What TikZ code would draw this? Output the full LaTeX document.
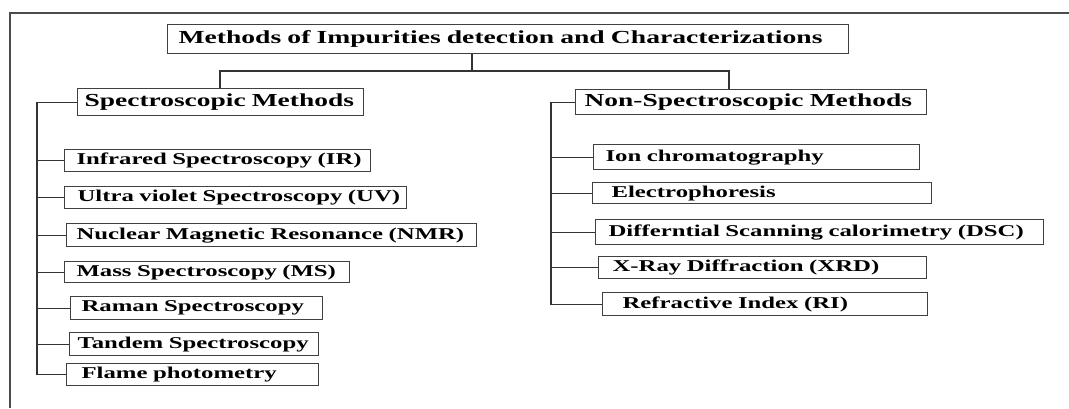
\documentclass[tikz,border=0pt]{standalone}
\usepackage{fontspec}
\usepackage{tikz}
\usetikzlibrary{positioning}
\newfontfamily\boxfont{Liberation Serif}[FakeStretch=1.5]
\newcommand{\titlefont}{\boxfont\bfseries\fontsize{18.4}{20}\selectfont}
\newcommand{\headfont}{\boxfont\bfseries\fontsize{18.3}{20}\selectfont}
\newcommand{\itemfont}{\boxfont\bfseries\fontsize{16.5}{18}\selectfont}
\tikzstyle{methodbox} = [draw=black!75, line width=1.2pt, rectangle, anchor=north west, inner ysep=0pt, align=left, font=\itemfont, execute at begin node={\hbox\bgroup}, execute at end node={\egroup}]
\tikzstyle{headbox} = [methodbox, font=\headfont]
\tikzstyle{treeline} = [draw=black!80, line width=1.1pt]

\begin{document}
\begin{tikzpicture}[x=1pt, y=-1pt]
	\useasboundingbox (0,0) rectangle (1069,408);
	% outer frame
	\draw[draw=black!70, line width=1.4pt] (1069,13) -- (10,13) -- (10,408);
	% title and the two groups
	\node[methodbox, font=\titlefont, text width=659pt, inner xsep=11pt, minimum height=29pt] (title) at (167,24) {Methods of Impurities detection and Characterizations};
	\node[headbox, text width=272pt, inner xsep=7pt, minimum height=27pt] (spec) at (77,88) {Spectroscopic Methods};
	\node[headbox, text width=333pt, inner xsep=9pt, minimum height=25pt] (nonspec) at (575,89) {Non-Spectroscopic Methods};
	% spectroscopic methods
	\node[methodbox, text width=282pt, inner xsep=12pt, minimum height=22pt] (ir) at (64,149) {Infrared Spectroscopy (IR)};
	\node[methodbox, text width=316pt, inner xsep=13pt, minimum height=22pt] (uv) at (64,186) {Ultra violet Spectroscopy (UV)};
	\node[methodbox, text width=390pt, inner xsep=10pt, minimum height=23pt] (nmr) at (66,223) {Nuclear Magnetic Resonance (NMR)};
	\node[methodbox, text width=261pt, inner xsep=12pt, minimum height=21pt] (ms) at (64,261) {Mass Spectroscopy (MS)};
	\node[methodbox, text width=230pt, inner xsep=11pt, minimum height=23pt] (raman) at (70,296) {Raman Spectroscopy};
	\node[methodbox, text width=233pt, inner xsep=8pt, minimum height=23pt] (tandem) at (69,332) {Tandem Spectroscopy};
	\node[methodbox, text width=222pt, inner xsep=15pt, minimum height=22pt] (flame) at (66,363) {Flame photometry};
	% non-spectroscopic methods
	\node[methodbox, text width=302pt, inner xsep=12pt, minimum height=25pt] (ion) at (593,144) {Ion chromatography};
	\node[methodbox, text width=301pt, inner xsep=19pt, minimum height=21pt] (electro) at (592,182) {Electrophoresis};
	\node[methodbox, text width=422pt, inner xsep=13pt, minimum height=25pt] (dsc) at (595,219) {Differntial Scanning calorimetry (DSC)};
	\node[methodbox, text width=300pt, inner xsep=14pt, minimum height=22pt] (xrd) at (598,256) {X-Ray Diffraction (XRD)};
	\node[methodbox, text width=285pt, inner xsep=20pt, minimum height=23pt] (ri) at (602,292) {Refractive Index (RI)};
	% branching
	\coordinate (split) at (472,71);
	\coordinate (lbranch) at (220,71);
	\coordinate (rbranch) at (729,71);
	\coordinate (lspine) at (37,0);
	\coordinate (rspine) at (551,0);
	\draw[treeline] (title.south -| split) -- (split);
	\draw[treeline] (spec.north -| lbranch) -- (lbranch) -- (rbranch) -- (nonspec.north -| rbranch);
	\draw[treeline] (spec.west) -- (spec.west -| lspine) -- (flame.west -| lspine) -- (flame.west);
	\draw[treeline] (nonspec.west) -- (nonspec.west -| rspine) -- (ri.west -| rspine) -- (ri.west);
	\foreach \n in {ir,uv,nmr,ms,raman,tandem}
		\draw[treeline] (\n.west) -- (\n.west -| lspine);
	\foreach \n in {ion,electro,dsc,xrd}
		\draw[treeline] (\n.west) -- (\n.west -| rspine);
\end{tikzpicture}
\end{document}
